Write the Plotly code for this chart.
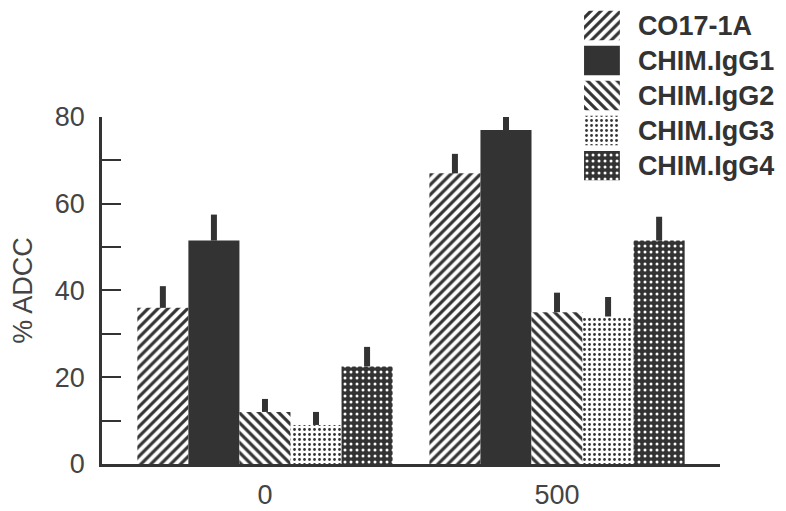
import plotly.graph_objects as go

doses = ["0", "500"]
series = ["CO17-1A", "CHIM.IgG1", "CHIM.IgG2", "CHIM.IgG3", "CHIM.IgG4"]
adcc = {
    "CO17-1A": [36, 67],
    "CHIM.IgG1": [51.5, 77],
    "CHIM.IgG2": [12, 35],
    "CHIM.IgG3": [9, 34],
    "CHIM.IgG4": [22.5, 51.5],
}
err = {
    "CO17-1A": [5, 4.5],
    "CHIM.IgG1": [6, 5],
    "CHIM.IgG2": [3, 4.5],
    "CHIM.IgG3": [3, 4.5],
    "CHIM.IgG4": [4.5, 5.5],
}

ink = "#333333"
font = "Liberation Sans, Arial, sans-serif"

styles = {
    "CO17-1A": dict(color="white", pattern=dict(shape="/", fgcolor=ink, bgcolor="white", size=7, solidity=0.45, fillmode="replace")),
    "CHIM.IgG1": dict(color=ink),
    "CHIM.IgG2": dict(color="white", pattern=dict(shape="\\", fgcolor=ink, bgcolor="white", size=7, solidity=0.45, fillmode="replace")),
    "CHIM.IgG3": dict(color="white", pattern=dict(shape=".", fgcolor=ink, bgcolor="white", size=5, solidity=0.25, fillmode="replace")),
    "CHIM.IgG4": dict(color=ink, pattern=dict(shape=".", fgcolor="white", bgcolor=ink, size=6, solidity=0.2, fillmode="replace")),
}

fig = go.Figure()
for s in series:
    fig.add_trace(go.Bar(
        x=doses, y=adcc[s], name=s,
        marker=dict(line=dict(width=0), **styles[s]),
        error_y=dict(type="data", array=err[s], arrayminus=[0, 0], symmetric=False,
                     width=0, thickness=6, color=ink),
        cliponaxis=False, showlegend=False,
    ))

# legend drawn as swatches on a small second pair of axes
for s in series:
    fig.add_trace(go.Bar(
        y=[s], x=[1], orientation="h", xaxis="x2", yaxis="y2",
        marker=dict(line=dict(width=0), **styles[s]),
        showlegend=False, hoverinfo="skip", width=0.84,
    ))

fig.update_layout(
    width=786, height=511,
    margin=dict(l=94, r=74, t=0, b=55, autoexpand=False),
    paper_bgcolor="white", plot_bgcolor="white",
    barmode="group", bargap=0.126, bargroupgap=0,
    font=dict(family=font, color="#444444"),
    xaxis=dict(type="category", range=[-0.558, 1.558], showline=True, linecolor=ink,
               linewidth=2.5, ticks="", showgrid=False, zeroline=False, automargin=False,
               ticklabelstandoff=5, tickfont=dict(size=27, color="#444444")),
    yaxis=dict(domain=[0, 0.761], range=[0, 80], showline=True, linecolor=ink, linewidth=2.5,
               ticks="inside", ticklen=19, tickwidth=2, tickcolor=ink, dtick=20,
               minor=dict(ticks="inside", ticklen=19, tickwidth=2, tickcolor=ink, dtick=10),
               showgrid=False, zeroline=False, ticklabelstandoff=9, automargin=False,
               tickfont=dict(size=27, color="#444444"),
               title=dict(text="% ADCC", font=dict(size=27, color="#444444"), standoff=22)),
    xaxis2=dict(domain=[0.780, 0.838], range=[0, 1], anchor="y2", visible=False, fixedrange=True),
    yaxis2=dict(domain=[0.616, 1], anchor="x2", side="right", autorange="reversed",
                type="category", showline=False, showgrid=False, zeroline=False, ticks="",
                ticklabelstandoff=17, automargin=False,
                tickfont=dict(size=27, color=ink, family=font, weight="bold")),
)

fig.write_html("out.html")
